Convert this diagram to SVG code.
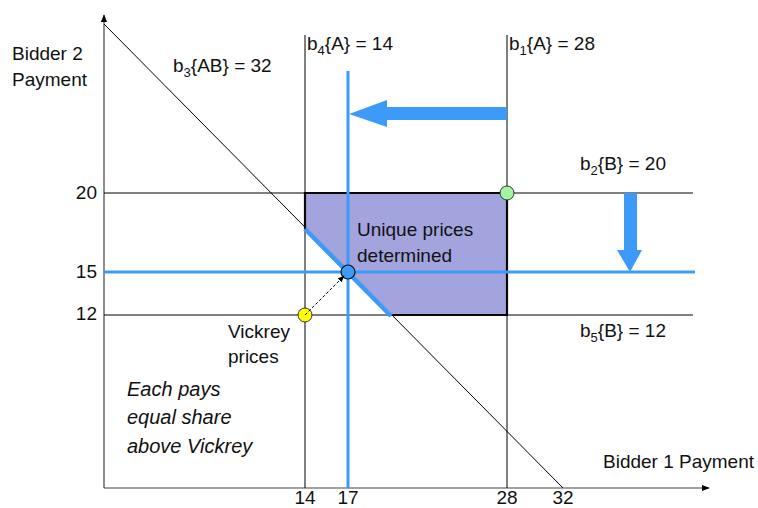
<svg xmlns="http://www.w3.org/2000/svg" width="758" height="508" viewBox="0 0 758 508">
<style>
text{font-family:"Liberation Sans",Arial,sans-serif;font-size:19px;fill:#111}
.it{font-style:italic;font-size:20px}
.mid{text-anchor:middle}
.end{text-anchor:end}
.ln{stroke:#000;stroke-width:1;fill:none}
.ax{stroke:#444;stroke-width:1.2;fill:none}
.bl{stroke:#3d9bf7;stroke-width:3;fill:none}
.blf{fill:#3d9bf7;stroke:none}
.sb{font-size:13px}
</style>
<defs>
<marker id="axh" viewBox="0 0 10 10" refX="9" refY="5" markerWidth="8" markerHeight="8" orient="auto" markerUnits="userSpaceOnUse"><path d="M0,1 L10,5 L0,9 Z" fill="#000"/></marker>
<marker id="dh" viewBox="0 0 10 10" refX="9" refY="5" markerWidth="7" markerHeight="7" orient="auto" markerUnits="userSpaceOnUse"><path d="M0,1 L10,5 L0,9 Z" fill="#000"/></marker>
</defs>
<g id="region">
<polygon points="305,193 507,193 507,315 391,315 305,229" fill="#a3a3de" stroke="none"/>
<polyline points="305,229 305,193 507,193 507,315 391,315" fill="none" stroke="#111" stroke-width="2.2"/>
</g>
<g id="connectors">
<line class="ax" x1="104" y1="488" x2="104" y2="15" marker-end="url(#axh)"/>
<line class="ax" x1="104" y1="488" x2="709" y2="488" marker-end="url(#axh)"/>
<line class="ln" x1="104" y1="24" x2="563" y2="488"/>
<line class="ln" x1="305" y1="35" x2="305" y2="488"/>
<line class="ln" x1="507" y1="35" x2="507" y2="488"/>
<line class="ln" x1="104" y1="193" x2="693" y2="193"/>
<line class="ln" x1="104" y1="315" x2="693" y2="315"/>
<line class="bl" x1="104" y1="272" x2="695" y2="272"/>
<line class="bl" x1="348" y1="71" x2="348" y2="488"/>
<line x1="305" y1="229" x2="391" y2="316" stroke="#3d9bf7" stroke-width="4.5"/>
<polygon class="blf" points="507,107 387,107 387,100 349,114 387,127 387,120 507,120"/>
<polygon class="blf" points="624,193 637,193 637,250 642,250 630,272 617,250 624,250"/>
</g>
<g id="points">
<circle cx="507" cy="193" r="7" fill="#a3f5a3" stroke="#333" stroke-width="1"/>
<circle cx="348" cy="272" r="7" fill="#3d9bf7" stroke="#111" stroke-width="1.2"/>
<circle cx="305" cy="315" r="7" fill="#ffff00" stroke="#333" stroke-width="1"/>
<line x1="305" y1="315" x2="344" y2="276" stroke="#000" stroke-width="1" stroke-dasharray="3,2" marker-end="url(#dh)"/>
</g>
<g id="labels">
<text x="12" y="60">Bidder 2</text>
<text x="12" y="86">Payment</text>
<text x="173" y="72">b<tspan class="sb" dy="5">3</tspan><tspan dy="-5">{AB} = 32</tspan></text>
<text x="307" y="50">b<tspan class="sb" dy="5">4</tspan><tspan dy="-5">{A} = 14</tspan></text>
<text x="509" y="50">b<tspan class="sb" dy="5">1</tspan><tspan dy="-5">{A} = 28</tspan></text>
<text x="580" y="170">b<tspan class="sb" dy="5">2</tspan><tspan dy="-5">{B} = 20</tspan></text>
<text x="580" y="337">b<tspan class="sb" dy="5">5</tspan><tspan dy="-5">{B} = 12</tspan></text>
<text class="end" x="97" y="199">20</text>
<text class="end" x="97" y="278">15</text>
<text class="end" x="97" y="320">12</text>
<text x="357" y="236">Unique prices</text>
<text x="357" y="262">determined</text>
<text x="228" y="338">Vickrey</text>
<text x="228" y="363">prices</text>
<text class="it" x="127" y="396">Each pays</text>
<text class="it" x="127" y="424">equal share</text>
<text class="it" x="127" y="453">above Vickrey</text>
<text x="603" y="468">Bidder 1 Payment</text>
<text class="mid" x="305" y="504">14</text>
<text class="mid" x="348" y="504">17</text>
<text class="mid" x="507" y="504">28</text>
<text class="mid" x="563" y="504">32</text>
</g>
</svg>
